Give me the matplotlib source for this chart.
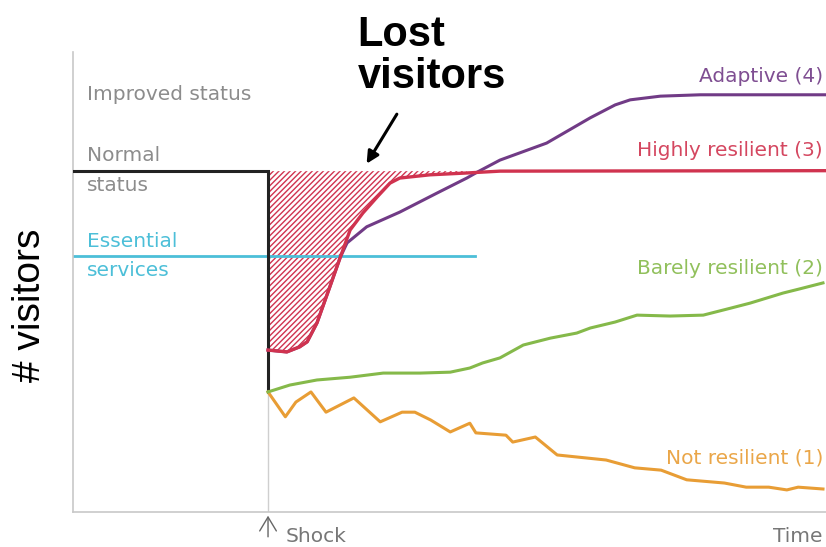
import numpy as np
import matplotlib.pyplot as plt

# visitors over time, read on a 0-100 scale for both axes
shock_t = 25.9
normal_level = 74.1
essential_level = 55.7
essential_end = 53.4
drop_level = 26.1

red_t = [25.9, 28.4, 30.1, 31.1, 32.4, 34.1, 35.5, 36.8, 38.5, 40.4, 42.1, 43.4, 47.4, 52.3, 56.7, 100]
red_v = [35.2, 34.8, 35.9, 37.0, 41.1, 48.9, 55.4, 61.3, 65.0, 68.5, 71.5, 72.6, 73.3, 73.7, 74.1, 74.2]

purple_t = [25.9, 28.4, 30.1, 31.1, 32.4, 34.1, 35.5, 36.4, 39.0, 43.4, 48.3, 52.3, 53.7, 56.7,
            62.9, 68.7, 72.0, 74.0, 78.0, 83.3, 100]
purple_v = [35.2, 34.8, 35.9, 37.0, 41.1, 48.9, 55.4, 58.5, 62.0, 65.2, 69.3, 72.6, 73.9, 76.5,
            80.2, 85.7, 88.5, 89.6, 90.4, 90.7, 90.7]

green_t = [25.9, 28.8, 32.4, 36.8, 41.2, 46.1, 50.1, 52.7, 54.4, 56.7, 59.8, 63.4, 66.9, 68.7,
           72.0, 74.9, 79.3, 83.7, 87.3, 89.9, 94.3, 96.5, 99.6]
green_v = [26.1, 27.6, 28.7, 29.3, 30.2, 30.2, 30.4, 31.3, 32.4, 33.5, 36.3, 37.8, 38.9, 40.0,
           41.3, 42.8, 42.6, 42.8, 44.3, 45.4, 47.6, 48.5, 49.8]

orange_t = [25.9, 28.2, 29.6, 31.6, 33.6, 37.3, 40.8, 43.7, 45.4, 47.5, 50.1, 52.7, 53.5, 57.5,
            58.4, 61.4, 64.3, 70.8, 74.6, 78.1, 81.5, 86.5, 89.4, 92.4, 94.8, 96.3, 99.6]
orange_v = [26.1, 20.7, 23.9, 26.1, 21.7, 24.8, 19.6, 21.7, 21.7, 20.0, 17.4, 19.3, 17.2, 16.7,
            15.2, 16.3, 12.4, 11.3, 9.6, 9.1, 7.0, 6.3, 5.4, 5.4, 4.8, 5.4, 5.0]

series_labels = ['Adaptive (4)', 'Highly resilient (3)', 'Barely resilient (2)', 'Not resilient (1)']
label_levels = [94.6, 78.5, 53.0, 11.7]

purple = '#713b86'
red = '#d0334f'
green = '#85b94a'
orange = '#e89d35'
cyan = '#4cbfd8'
grey_text = '#8c8c8c'

plt.rcParams['hatch.linewidth'] = 1.0

fig = plt.figure(figsize=(8.26, 5.47), dpi=100)
ax = fig.add_axes([73 / 826, 35 / 547, 753 / 826, 460 / 547])
ax.set_xlim(0, 100)
ax.set_ylim(0, 100)
ax.set_xticks([])
ax.set_yticks([])
for s in ['top', 'right']:
    ax.spines[s].set_visible(False)
ax.spines['left'].set_color('#c8c8c8')
ax.spines['bottom'].set_color('#c8c8c8')
ax.spines['left'].set_linewidth(1.2)
ax.spines['bottom'].set_linewidth(1.2)

# shock marker
ax.plot([shock_t, shock_t], [0, drop_level], color='#cfcfcf', lw=1.0)
ax.annotate('', xy=(shock_t, -0.2), xytext=(shock_t, -6.0), annotation_clip=False,
            arrowprops=dict(arrowstyle='->,head_length=0.5,head_width=0.3', color='#666666',
                            lw=1.0, mutation_scale=20))

# lost visitors area
rt = np.array(red_t)
rv = np.array(red_v)
mask = rt <= 52.3
ax.fill_between(rt[mask], rv[mask], normal_level, facecolor='white', edgecolor=red,
                hatch='//////', lw=0, zorder=1)

# reference levels
ax.plot([0, essential_end], [essential_level, essential_level], color=cyan, lw=2, zorder=2)
ax.plot([0, shock_t, shock_t], [normal_level, normal_level, drop_level], color='#222222', lw=2.2,
        zorder=3, solid_joinstyle='miter')

ax.plot(orange_t, orange_v, color=orange, lw=2.2, zorder=3)
ax.plot(green_t, green_v, color=green, lw=2.2, zorder=3)
ax.plot(purple_t, purple_v, color=purple, lw=2.2, zorder=3)
ax.plot(red_t, red_v, color=red, lw=2.4, zorder=4)

fs = 14.5
for lab, lev, c in zip(series_labels, label_levels, [purple, red, green, orange]):
    ax.text(99.6, lev, lab, color=c, fontsize=fs, ha='right', va='center', alpha=0.9)

ax.text(1.9, 90.7, 'Improved status', color=grey_text, fontsize=fs, va='center')
ax.text(1.9, 77.4, 'Normal', color=grey_text, fontsize=fs, va='center')
ax.text(1.9, 70.9, 'status', color=grey_text, fontsize=fs, va='center')
ax.text(1.9, 58.9, 'Essential', color=cyan, fontsize=fs, va='center')
ax.text(1.9, 52.6, 'services', color=cyan, fontsize=fs, va='center')

ax.text(28.2, -5.4, 'Shock', color='#777777', fontsize=fs, va='center', clip_on=False)
ax.text(99.5, -5.4, 'Time', color='#777777', fontsize=fs, va='center', ha='right', clip_on=False)

ax.text(37.8, 108, 'Lost\nvisitors', fontsize=30, fontweight='bold', family='Liberation Sans',
        va='top', ha='left', linespacing=1.05, clip_on=False)
ax.annotate('', xy=(38.8, 75.2), xytext=(43.2, 87.0),
            arrowprops=dict(arrowstyle='-|>', color='black', lw=2.2, mutation_scale=18))

fig.text(30 / 826, 1 - 305 / 547, '# visitors', rotation=90, fontsize=28,
         family='Liberation Sans', ha='center', va='center')

fig.savefig('out.png', dpi=100)
